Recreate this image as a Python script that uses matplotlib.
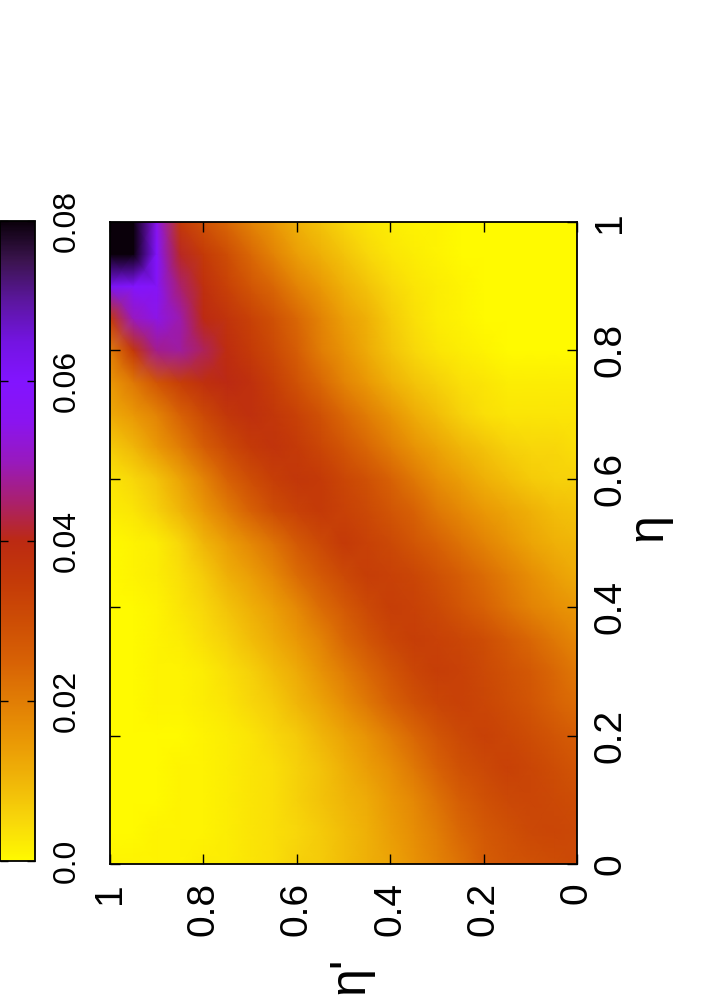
import numpy as np
import matplotlib
matplotlib.use("Agg")
import matplotlib.pyplot as plt
from matplotlib.colors import LinearSegmentedColormap

plt.rcParams['font.family'] = ['Liberation Sans', 'DejaVu Sans']

# grid nodes
eta_prime = [0.00, 0.05, 0.10, 0.15, 0.20, 0.25, 0.30, 0.35, 0.40, 0.45, 0.50,
             0.55, 0.60, 0.65, 0.70, 0.75, 0.80, 0.85, 0.90, 0.95, 1.00]
eta = [0.00, 0.05, 0.10, 0.15, 0.20, 0.25, 0.30, 0.35, 0.40, 0.45, 0.50,
       0.55, 0.60, 0.65, 0.70, 0.75, 0.80, 0.85, 0.90, 0.95, 1.00]

# one row per eta value, columns follow eta_prime
row_000 = [.031, .030, .029, .028, .026, .022, .019, .016, .013, .011, .009, .007, .006, .004, .003, .002, .002, .001, .001, .001, .001]
row_005 = [.031, .032, .031, .029, .027, .024, .020, .017, .014, .011, .009, .007, .005, .004, .003, .002, .001, .001, .001, .000, .000]
row_010 = [.030, .031, .032, .031, .029, .026, .022, .018, .015, .012, .010, .008, .006, .004, .003, .002, .001, .001, .000, .000, .000]
row_015 = [.028, .030, .032, .033, .031, .029, .025, .021, .017, .014, .011, .008, .006, .004, .003, .002, .001, .001, .000, .000, .000]
row_020 = [.026, .028, .030, .032, .033, .031, .028, .024, .020, .016, .013, .010, .007, .005, .003, .002, .001, .000, .000, .000, .000]
row_025 = [.023, .025, .028, .030, .032, .033, .032, .029, .025, .021, .017, .013, .010, .007, .005, .003, .002, .001, .001, .000, .000]
row_030 = [.021, .024, .027, .029, .031, .033, .034, .032, .028, .024, .020, .016, .012, .009, .006, .004, .002, .001, .001, .000, .000]
row_035 = [.018, .021, .024, .027, .030, .032, .033, .034, .032, .028, .024, .019, .015, .012, .009, .006, .004, .002, .001, .000, .000]
row_040 = [.015, .017, .019, .022, .025, .028, .031, .033, .034, .031, .027, .023, .018, .014, .011, .008, .005, .003, .001, .000, .000]
row_045 = [.012, .014, .017, .020, .023, .026, .029, .032, .033, .034, .031, .027, .023, .018, .014, .011, .007, .004, .002, .001, .000]
row_050 = [.010, .011, .013, .016, .019, .022, .025, .028, .031, .033, .035, .031, .027, .022, .018, .014, .010, .005, .002, .001, .000]
row_055 = [.008, .009, .011, .013, .015, .018, .021, .025, .028, .031, .033, .035, .033, .030, .025, .020, .015, .010, .006, .003, .002]
row_060 = [.006, .006, .007, .009, .011, .014, .017, .021, .025, .029, .032, .035, .036, .034, .030, .025, .019, .013, .008, .005, .003]
row_065 = [.004, .005, .005, .006, .008, .010, .013, .016, .020, .024, .028, .032, .035, .037, .035, .031, .026, .020, .015, .010, .007]
row_070 = [.003, .003, .003, .003, .004, .006, .009, .012, .016, .020, .024, .029, .033, .036, .038, .036, .031, .025, .019, .015, .012]
row_075 = [.002, .002, .002, .002, .003, .004, .006, .008, .011, .015, .019, .024, .029, .034, .038, .040, .038, .034, .028, .021, .015]
row_080 = [.000, .000, .000, .000, .001, .002, .003, .005, .008, .012, .016, .020, .026, .031, .035, .039, .044, .048, .047, .036, .020]
row_085 = [.000, .000, .000, .000, .000, .001, .002, .004, .007, .011, .014, .019, .024, .029, .033, .037, .040, .049, .054, .050, .035]
row_090 = [.000, .000, .000, .000, .000, .001, .002, .003, .005, .008, .011, .015, .019, .024, .028, .033, .038, .045, .058, .060, .062]
row_095 = [.000, .000, .000, .000, .000, .000, .001, .002, .003, .005, .008, .011, .014, .019, .024, .030, .035, .041, .060, .082, .085]
row_100 = [.000, .000, .000, .000, .000, .000, .001, .001, .002, .003, .005, .008, .011, .015, .019, .024, .029, .035, .055, .085, .090]

values = np.array([row_000, row_005, row_010, row_015, row_020, row_025, row_030,
                   row_035, row_040, row_045, row_050, row_055, row_060, row_065,
                   row_070, row_075, row_080, row_085, row_090, row_095, row_100])

axis_ticks = [0, 0.2, 0.4, 0.6, 0.8, 1.0]
axis_ticklabels = ["0", "0.2", "0.4", "0.6", "0.8", "1"]
cb_ticks = [0.0, 0.02, 0.04, 0.06, 0.08]
cb_ticklabels = ["0.0", "0.02", "0.04", "0.06", "0.08"]

# palette (gnuplot-like: yellow -> orange -> red -> purple -> violet -> black)
pal = [(255, 250, 0), (248, 215, 10), (240, 182, 8), (234, 152, 5), (225, 125, 5),
       (215, 97, 5), (205, 77, 5), (196, 58, 8), (188, 42, 18), (170, 32, 110),
       (152, 25, 190), (138, 20, 240), (130, 20, 255), (115, 20, 225),
       (92, 22, 160), (60, 20, 80), (10, 0, 10)]
cmap = LinearSegmentedColormap.from_list(
    "pal", [tuple(c / 255 for c in rgb) for rgb in pal], N=512)

W, H = 706, 1008
fig = plt.figure(figsize=(W / 100, H / 100), dpi=100)

ax = fig.add_axes([110 / W, 1 - 864 / H, 467 / W, 642 / H])
XX, YY = np.meshgrid(eta_prime, eta)
mesh = ax.pcolormesh(XX, YY, values, cmap=cmap, vmin=0.0, vmax=0.08,
                     shading='gouraud', rasterized=True)
ax.set_xlim(1, 0)
ax.set_ylim(0, 1)
for s in ax.spines.values():
    s.set_linewidth(1.3)

ax.set_xticks(axis_ticks)
ax.set_xticklabels(axis_ticklabels, rotation=90, fontsize=28, va='top', ha='center')
ax.set_yticks(axis_ticks)
ax.set_yticklabels(axis_ticklabels, rotation=90, fontsize=28, va='center', ha='left')
ax.tick_params(axis='x', direction='in', length=7.5, width=1.0, top=True, bottom=True,
               labelbottom=True, labeltop=False, pad=13)
ax.tick_params(axis='y', direction='in', length=7.5, width=1.0, left=True, right=True,
               labelleft=False, labelright=True, pad=11)

# axis labels (rotated like the rest of the page)
fig.text(648 / W, 1 - 527 / H, "η", rotation=90, fontsize=36, ha='center', va='center')
fig.text(350 / W, 1 - 975 / H, "η'", rotation=90, fontsize=36, ha='center', va='center')

# colour bar
cax = fig.add_axes([0 / W, 1 - 861 / H, 35 / W, 640 / H])
cb = fig.colorbar(mesh, cax=cax, orientation='vertical')
cb.set_ticks(cb_ticks)
cb.set_ticklabels(cb_ticklabels)
cb.outline.set_linewidth(1.3)
cax.tick_params(axis='y', direction='in', length=6, width=1.0, left=True, right=True,
                labelleft=False, labelright=True, pad=12)
for lab in cax.get_yticklabels():
    lab.set_rotation(90)
    lab.set_fontsize(23)
    lab.set_va('center')
    lab.set_ha('left')

fig.savefig("out.png", dpi=100)
